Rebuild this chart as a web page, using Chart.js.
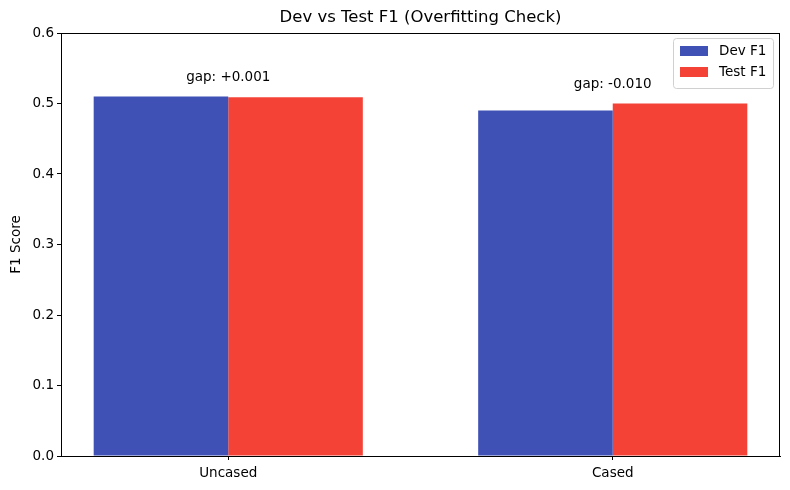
<!DOCTYPE html>
<html>
<head>
<meta charset="utf-8">
<script src="https://cdn.jsdelivr.net/npm/chart.js@4.4.1/dist/chart.umd.min.js"></script>
<style>
  html, body { margin: 0; padding: 0; background: #fff; }
  canvas { display: block; }
</style>
</head>
<body>
<canvas id="chart" width="790" height="490"></canvas>
<script>
// Chart data
const categories = ['Uncased', 'Cased'];
const devF1 = [0.510, 0.490];
const testF1 = [0.509, 0.500];
const yTicks = [0.0, 0.1, 0.2, 0.3, 0.4, 0.5, 0.6];

const FONT = 'DejaVu Sans';

// Title, top/right spines, gap labels and legend
const decorPlugin = {
    id: 'decor',
    afterDatasetsDraw(chart) {
        const ctx = chart.ctx;
        const area = chart.chartArea;
        const xs = chart.scales.x;
        const ys = chart.scales.y;

        ctx.save();
        // box around plot
        ctx.strokeStyle = '#000';
        ctx.lineWidth = 1;
        ctx.strokeRect(area.left + 0.5, area.top + 0.5, area.right - area.left - 1, area.bottom - area.top);

        // title
        ctx.fillStyle = '#000';
        ctx.font = '16.5px ' + FONT;
        ctx.textAlign = 'center';
        ctx.textBaseline = 'middle';
        ctx.fillText('Dev vs Test F1 (Overfitting Check)', (area.left + area.right) / 2, 18);

        // gap labels above each pair
        ctx.font = '13.5px ' + FONT;
        ctx.textBaseline = 'bottom';
        categories.forEach((c, i) => {
            const gap = devF1[i] - testF1[i];
            const txt = 'gap: ' + (gap >= 0 ? '+' : '-') + Math.abs(gap).toFixed(3);
            const top = Math.max(devF1[i], testF1[i]) + 0.02;
            ctx.fillText(txt, xs.getPixelForValue(i), ys.getPixelForValue(top) + 2);
        });

        // legend
        const lx = 673, ly = 38, lw = 100, lh = 50;
        ctx.fillStyle = 'rgba(255,255,255,0.8)';
        ctx.strokeStyle = '#d0d0d0';
        ctx.beginPath();
        ctx.roundRect(lx + 0.5, ly + 0.5, lw, lh, 3);
        ctx.fill();
        ctx.stroke();
        chart.data.datasets.forEach((ds, i) => {
            const cy = ly + 13 + i * 21;
            ctx.fillStyle = ds.backgroundColor;
            ctx.fillRect(lx + 7, cy - 5, 28, 10);
            ctx.fillStyle = '#000';
            ctx.textAlign = 'left';
            ctx.textBaseline = 'middle';
            ctx.font = '13.5px ' + FONT;
            ctx.fillText(ds.label, lx + 46, cy);
        });
        ctx.restore();
    }
};

new Chart(document.getElementById('chart'), {
    type: 'bar',
    data: {
        datasets: [
            {
                label: 'Dev F1',
                data: devF1.map((v, i) => ({ x: i, y: v })),
                backgroundColor: '#3F51B5',
                borderWidth: 0
            },
            {
                label: 'Test F1',
                data: testF1.map((v, i) => ({ x: i, y: v })),
                backgroundColor: '#F44336',
                borderWidth: 0
            }
        ]
    },
    options: {
        responsive: false,
        devicePixelRatio: 1,
        animation: false,
        categoryPercentage: 0.7,
        barPercentage: 1.0,
        layout: { padding: { left: 0, right: 10, top: 33, bottom: 0 } },
        plugins: {
            legend: { display: false },
            title: { display: false },
            tooltip: { enabled: false }
        },
        scales: {
            x: {
                type: 'linear',
                min: -0.435,
                max: 1.435,
                offset: false,
                afterBuildTicks: (scale) => {
                    scale.ticks = categories.map((c, i) => ({ value: i }));
                },
                afterFit: (scale) => { scale.height = 34; },
                ticks: {
                    callback: (v) => categories[v],
                    color: '#000',
                    font: { family: FONT, size: 13.5 },
                    padding: 5,
                    maxRotation: 0
                },
                grid: { offset: false, drawOnChartArea: false, drawTicks: true, tickLength: 4, color: '#000' },
                border: { display: true, color: '#000' }
            },
            y: {
                min: 0,
                max: 0.6,
                afterBuildTicks: (scale) => {
                    scale.ticks = yTicks.map(v => ({ value: v }));
                },
                afterFit: (scale) => { scale.width = 61; },
                ticks: {
                    callback: (v) => v.toFixed(1),
                    color: '#000',
                    font: { family: FONT, size: 13.5 },
                    padding: 3
                },
                grid: { drawOnChartArea: false, drawTicks: true, tickLength: 4, color: '#000' },
                border: { display: true, color: '#000' },
                title: {
                    display: true,
                    text: 'F1 Score',
                    color: '#000',
                    font: { family: FONT, size: 13.5 },
                    padding: { top: 8, bottom: 0 }
                }
            }
        }
    },
    plugins: [decorPlugin]
});
</script>
</body>
</html>
